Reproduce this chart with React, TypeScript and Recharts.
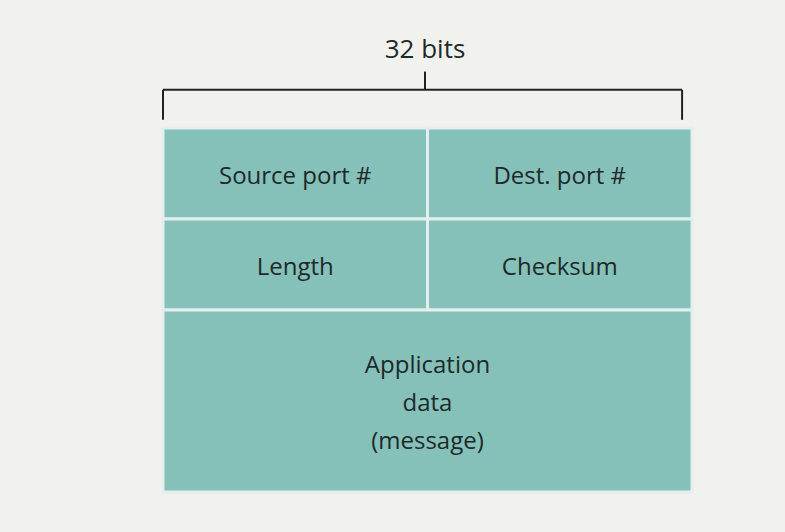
import { ComposedChart, ReferenceArea, ReferenceLine, Scatter, XAxis, YAxis } from "recharts";

// UDP segment fields: start bit, width in bits, row span (in 32-bit rows)
const fieldNames = ["Source port #", "Dest. port #", "Length", "Checksum", "Application\ndata\n(message)"];
const fieldStart = [0, 16, 0, 16, 0];
const fieldBits = [16, 16, 16, 16, 32];
const fieldRowTop = [0, 0, 1, 1, 2];
const fieldRowBottom = [1, 1, 2, 2, 4];
const widthLabel = "32 bits";

// segment corners, used as (invisible) anchor points for the axes
const corners = [{ x: 0, y: 0 }, { x: 32, y: 4 }];

const TEAL = "#86c1b9";
const INK = "#1d2a2a";
const FONT = "'Open Sans', 'Noto Sans', sans-serif";

function CellLabel(props: any) {
  const { viewBox, value } = props;
  if (!viewBox) return null;
  const lines = String(value).split("\n");
  const cx = viewBox.x + viewBox.width / 2;
  const cy = viewBox.y + viewBox.height / 2;
  const lh = 38;
  const y0 = cy - ((lines.length - 1) * lh) / 2;
  return (
    <text x={cx} textAnchor="middle" fill={INK} fontSize={24} fontFamily={FONT} dominantBaseline="central">
      {lines.map((l, i) => (
        <tspan key={i} x={cx} y={y0 + i * lh}>{l}</tspan>
      ))}
    </text>
  );
}

export default function App() {
  return (
    <div style={{ position: "absolute", left: 0, top: 0, background: "#f1f1ee" }}>
      <ComposedChart width={785} height={532} data={corners} margin={{ top: 128, right: 93, bottom: 40, left: 163 }}>
        <XAxis type="number" dataKey="x" domain={[0, 32]} allowDataOverflow hide />
        <YAxis type="number" dataKey="y" domain={[0, 4]} allowDataOverflow reversed hide />
        <ReferenceArea x1={0} x2={32} y1={0} y2={4} fill={TEAL} fillOpacity={1} stroke="none" ifOverflow="visible" />
        {fieldNames.map((n, i) => (
          <ReferenceArea key={n} x1={fieldStart[i]} x2={fieldStart[i] + fieldBits[i]}
            y1={fieldRowTop[i]} y2={fieldRowBottom[i]} fill={TEAL} fillOpacity={1} ifOverflow="visible"
            stroke="#e4efed" strokeWidth={3} label={<CellLabel value={n} />} />
        ))}
        <ReferenceLine segment={[{ x: 0, y: -0.42 }, { x: 31.4, y: -0.42 }]} stroke="#222" strokeWidth={2} ifOverflow="visible" />
        <ReferenceLine segment={[{ x: 0, y: -0.42 }, { x: 0, y: -0.09 }]} stroke="#222" strokeWidth={2} ifOverflow="visible" />
        <ReferenceLine segment={[{ x: 31.4, y: -0.42 }, { x: 31.4, y: -0.09 }]} stroke="#222" strokeWidth={2} ifOverflow="visible" />
        <ReferenceLine segment={[{ x: 15.85, y: -0.62 }, { x: 15.85, y: -0.42 }]} stroke="#222" strokeWidth={2} ifOverflow="visible"
          label={{ value: widthLabel, position: "top", offset: 14, fill: INK, fontSize: 26, fontFamily: FONT }} />
        <Scatter dataKey="y" fill="transparent" isAnimationActive={false} />
      </ComposedChart>
    </div>
  );
}
